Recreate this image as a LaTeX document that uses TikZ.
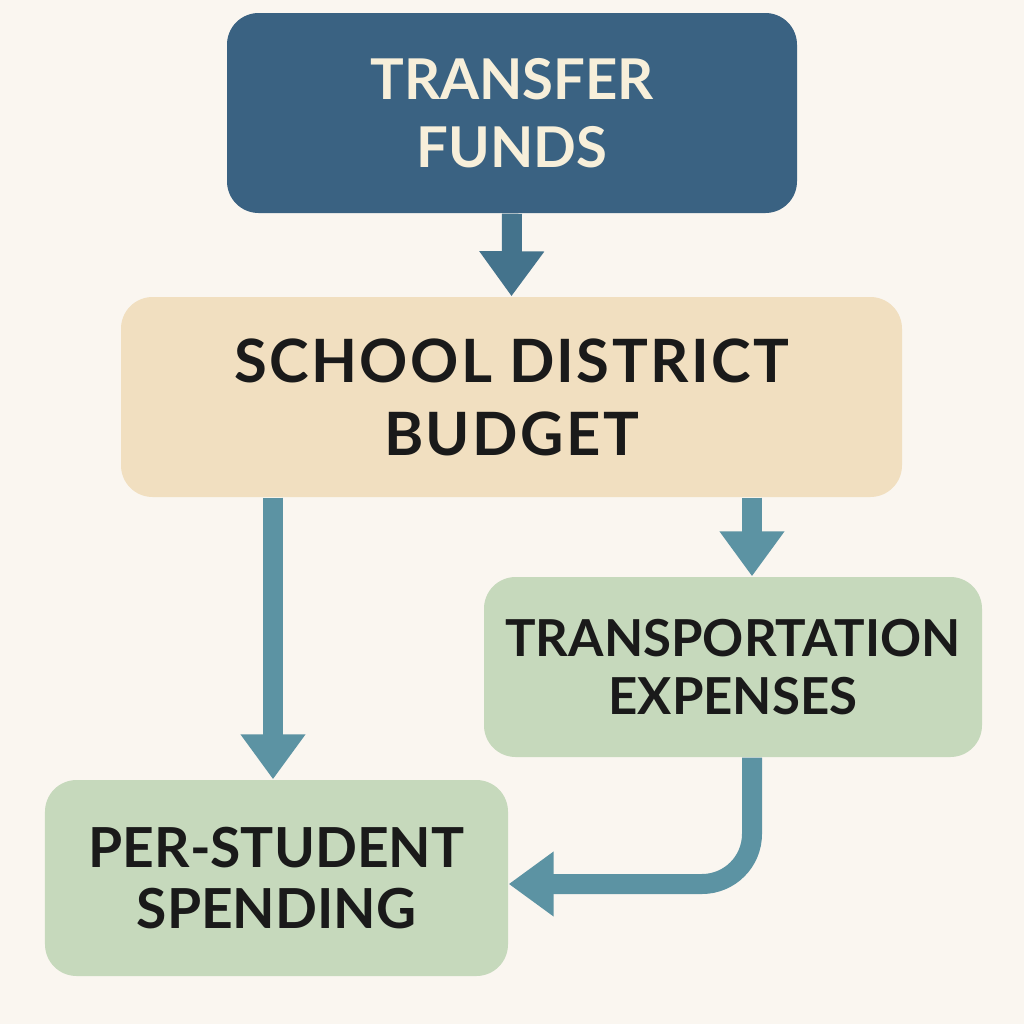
\documentclass[tikz,border=0pt]{standalone}
\usepackage{fontspec}
\setmainfont{Lato}
\usetikzlibrary{positioning, arrows.meta}
\definecolor{bgcream}{HTML}{FAF6F0}
\definecolor{topblue}{HTML}{3A6282}
\definecolor{topcream}{HTML}{F7EFDA}
\definecolor{budgetbeige}{HTML}{F1DFC0}
\definecolor{costgreen}{HTML}{C6D9BC}
\definecolor{arrblue}{HTML}{44738C}
\definecolor{arrteal}{HTML}{5C93A3}
\definecolor{inkdark}{HTML}{1A1A1A}

\begin{document}
\begin{tikzpicture}[
 box/.style={rounded corners=9pt, align=center, inner sep=0pt, text=inkdark},
 flow/.style={line width=0.2cm, draw=arrteal, -{Triangle[width=0.62cm,length=0.45cm]}}
] % styles for boxes and arrows
 \fill[bgcream] (0,0) rectangle (10.24,-10.24); % page background
 \coordinate (lcol) at (2.73,0);
 \coordinate (rcol) at (7.52,0);
 \coordinate (lrow) at (0,-8.84);
 % boxes
 \node[box, fill=topblue, text=topcream, minimum width=5.7cm, minimum height=2cm, font=\bfseries\fontsize{16}{19.3}\selectfont] (transfer) at (5.12,-1.13) {TRANSFER\\FUNDS};
 \node[box, fill=budgetbeige, minimum width=7.81cm, minimum height=2cm, font=\bfseries\addfontfeature{LetterSpace=4}\fontsize{17}{20.8}\selectfont] (budget) at (5.115,-3.97) {SCHOOL DISTRICT\\BUDGET};
 \node[box, fill=costgreen, minimum width=4.98cm, minimum height=1.8cm, font=\bfseries\fontsize{14.5}{16.5}\selectfont] (transport) at (7.33,-6.67) {TRANSPORTATION\\EXPENSES};
 \node[box, fill=costgreen, minimum width=4.63cm, minimum height=1.96cm, font=\bfseries\fontsize{15.7}{17.6}\selectfont] (perstudent) at (2.765,-8.78) {PER-STUDENT\\SPENDING};
 % arrows
 \draw[flow, draw=arrblue] (transfer.south) -- (budget.north);
 \draw[flow] (budget.south -| lcol) -- (perstudent.north -| lcol);
 \draw[flow] (budget.south -| rcol) -- (transport.north -| rcol);
 \draw[flow, rounded corners=0.5cm] (transport.south -| rcol) |- (perstudent.east |- lrow);
\end{tikzpicture}
\end{document}
